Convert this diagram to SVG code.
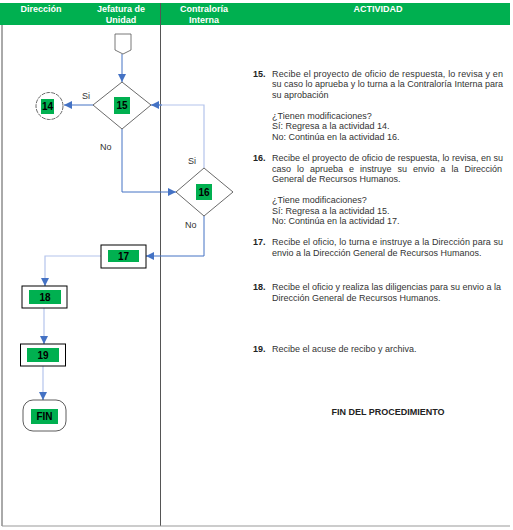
<svg xmlns="http://www.w3.org/2000/svg" width="513" height="530" viewBox="0 0 513 530">
<defs>
<style>
.hdr{font-family:"Liberation Sans",Arial,sans-serif;font-size:9px;font-weight:bold;fill:#fff;text-anchor:middle}
.t{font-family:"Liberation Sans",Arial,sans-serif;font-size:9px;fill:#333}
.n{font-family:"Liberation Sans",Arial,sans-serif;font-size:9px;font-weight:bold;fill:#222}
.lbl{font-family:"Liberation Sans",Arial,sans-serif;font-size:10px;font-weight:bold;fill:#000;text-anchor:middle}
.sm{font-family:"Liberation Sans",Arial,sans-serif;font-size:9px;fill:#333}
.g{fill:#00B050}
.shape{fill:#fff;stroke:#444;stroke-width:0.8}
.box{fill:#fff;stroke:#000;stroke-width:1}
.c{fill:none;stroke:#4472C4;stroke-width:1}
.cp{fill:none;stroke:#B4C4EC;stroke-width:1.2}
</style>
<marker id="ar" viewBox="0 0 10 10" refX="10" refY="5" markerWidth="8" markerHeight="8" markerUnits="userSpaceOnUse" orient="auto">
<path d="M0,0 L10,5 L0,10 z" fill="#4472C4"/>
</marker>
</defs>
<rect width="513" height="530" fill="#fff"/>
<g id="header">
<rect x="0" y="3" width="510" height="22" fill="#00B050"/>
<text class="hdr" x="41" y="12">Dirección</text>
<text class="hdr" x="121" y="12">Jefatura de</text>
<text class="hdr" x="121" y="23">Unidad</text>
<text class="hdr" x="204" y="12">Contraloría</text>
<text class="hdr" x="204" y="23">Interna</text>
<text class="hdr" x="378" y="12">ACTIVIDAD</text>
</g>
<g id="frame">
<line x1="2" y1="25" x2="2" y2="526" stroke="#555" stroke-width="1"/>
<line x1="160.5" y1="3" x2="160.5" y2="526" stroke="#555" stroke-width="1"/>
<line x1="2" y1="526" x2="510" y2="526" stroke="#999" stroke-width="1"/>
</g>
<g id="connectors">
<line class="c" x1="122" y1="54" x2="122" y2="82" marker-end="url(#ar)"/>
<line class="c" x1="93" y1="105" x2="64" y2="105" marker-end="url(#ar)"/>
<polyline class="c" points="122,129 122,192 176,192" marker-end="url(#ar)"/>
<polyline class="cp" points="204,168 204,105 152,105"/>
<line class="c" x1="162" y1="105" x2="151" y2="105" marker-end="url(#ar)"/>
<polyline class="c" points="204,216 204,256 146,256" marker-end="url(#ar)"/>
<polyline class="cp" points="101,256 45,256 45,280"/>
<line class="c" x1="45" y1="278" x2="45" y2="286" marker-end="url(#ar)"/>
<line class="cp" x1="44" y1="308" x2="44" y2="338"/>
<line class="c" x1="44" y1="336" x2="44" y2="344" marker-end="url(#ar)"/>
<line class="cp" x1="43" y1="366" x2="43" y2="394"/>
<line class="c" x1="43" y1="392" x2="43" y2="400" marker-end="url(#ar)"/>
<text class="sm" x="82" y="99">Si</text>
<text class="sm" x="100" y="150">No</text>
<text class="sm" x="188" y="164">Si</text>
<text class="sm" x="185" y="228">No</text>
</g>
<g id="start">
<path d="M115,34 L131,34 L131,50 L123,54 L115,50 Z" fill="#fff" stroke="#555" stroke-width="0.8"/>
</g>
<g id="n14">
<circle cx="49.5" cy="106" r="13.5" fill="#fff" stroke="#444" stroke-width="0.8" stroke-dasharray="4 1"/>
<rect class="g" x="41" y="99" width="13" height="15"/>
<text class="lbl" x="47.5" y="110">14</text>
</g>
<g id="n15">
<path class="shape" d="M122,82 L151,105 L122,129 L93,105 Z"/>
<rect class="g" x="114" y="97" width="16" height="17"/>
<text class="lbl" x="122" y="109">15</text>
</g>
<g id="n16">
<path class="shape" d="M204,168 L233,192 L204,216 L176,192 Z"/>
<rect class="g" x="196" y="184" width="16" height="16"/>
<text class="lbl" x="204" y="196">16</text>
</g>
<g id="n17">
<rect class="box" x="101" y="245" width="45" height="23"/>
<rect class="g" x="108" y="250" width="31" height="12"/>
<text class="lbl" x="123.5" y="260">17</text>
</g>
<g id="n18">
<rect class="box" x="22" y="286" width="45" height="22"/>
<rect class="g" x="29" y="290" width="32" height="14"/>
<text class="lbl" x="45" y="301">18</text>
</g>
<g id="n19">
<rect class="box" x="20.5" y="344" width="45" height="22"/>
<rect class="g" x="27" y="348" width="32" height="14"/>
<text class="lbl" x="43" y="359">19</text>
</g>
<g id="fin">
<rect x="23" y="400" width="43" height="31" rx="10" fill="#fff" stroke="#333" stroke-width="0.8"/>
<rect class="g" x="31" y="409" width="27" height="15"/>
<text class="lbl" x="44.5" y="420">FIN</text>
</g>
<g id="activities">
<text class="n" x="253" y="76.5">15.</text>
<text class="t" x="272" y="76.5" textLength="231" lengthAdjust="spacing">Recibe el proyecto de oficio de respuesta, lo revisa y en</text>
<text class="t" x="272" y="87" textLength="231" lengthAdjust="spacing">su caso lo aprueba y lo turna a la Contraloría Interna para</text>
<text class="t" x="272" y="97.5">su aprobación</text>
<text class="t" x="272" y="118.5">¿Tienen modificaciones?</text>
<text class="t" x="272" y="129">Sí: Regresa a la actividad 14.</text>
<text class="t" x="272" y="139.5">No: Continúa en la actividad 16.</text>

<text class="n" x="253" y="161">16.</text>
<text class="t" x="272" y="161" textLength="231" lengthAdjust="spacing">Recibe el proyecto de oficio de respuesta, lo revisa, en su</text>
<text class="t" x="272" y="171.5" word-spacing="3.5">caso lo aprueba e instruye su envio a la Dirección</text>
<text class="t" x="272" y="182">General de Recursos Humanos.</text>
<text class="t" x="272" y="203">¿Tiene modificaciones?</text>
<text class="t" x="272" y="213.5">Sí: Regresa a la actividad 15.</text>
<text class="t" x="272" y="224">No: Continúa en la actividad 17.</text>

<text class="n" x="253" y="245">17.</text>
<text class="t" x="272" y="245" textLength="231" lengthAdjust="spacing">Recibe el oficio, lo turna e instruye a la Dirección para su</text>
<text class="t" x="272" y="255.5">envio a la Dirección General de Recursos Humanos.</text>

<text class="n" x="253" y="290">18.</text>
<text class="t" x="272" y="290" textLength="229" lengthAdjust="spacing">Recibe el oficio y realiza las diligencias para su envio a la</text>
<text class="t" x="272" y="300.5">Dirección General de Recursos Humanos.</text>

<text class="n" x="253" y="352">19.</text>
<text class="t" x="272" y="352">Recibe el acuse de recibo y archiva.</text>

<text class="n" x="388" y="415" text-anchor="middle">FIN DEL PROCEDIMIENTO</text>
</g>
</svg>
